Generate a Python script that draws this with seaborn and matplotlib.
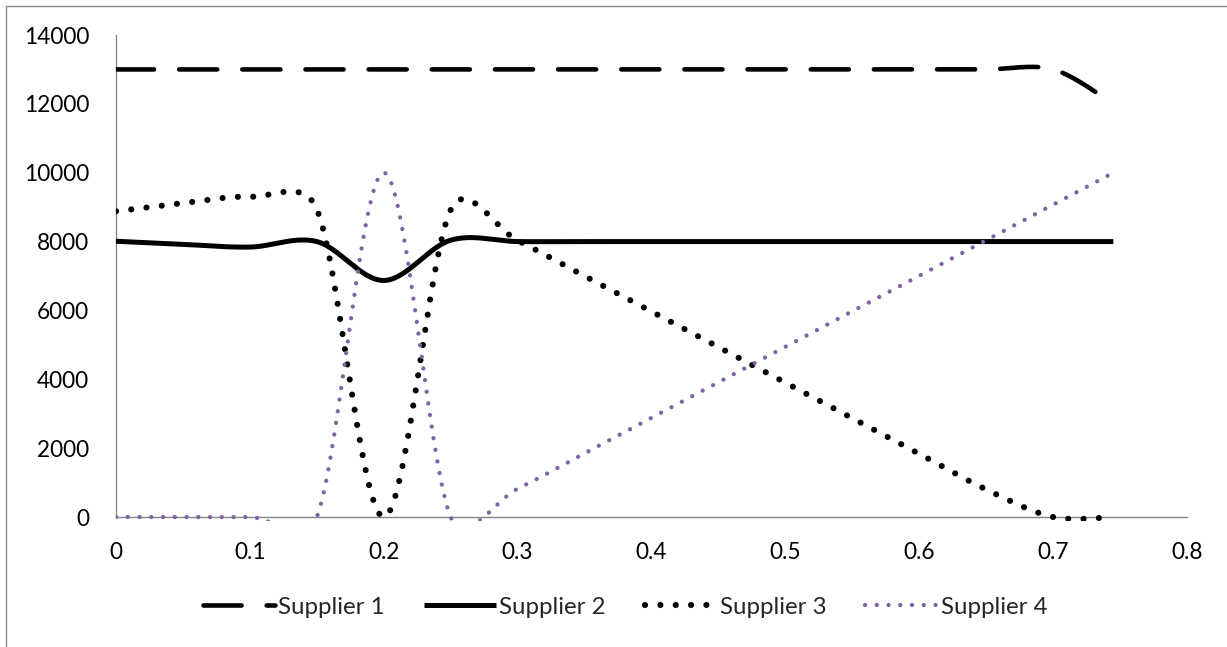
import numpy as np
import matplotlib
matplotlib.use("Agg")
import matplotlib.pyplot as plt
import seaborn as sns
from matplotlib.lines import Line2D
from matplotlib.transforms import Bbox, TransformedBbox

# ---------------- data ----------------
x_values = [0, 0.05, 0.1, 0.15, 0.2, 0.25, 0.3, 0.35, 0.4, 0.45, 0.5,
            0.55, 0.6, 0.65, 0.7, 0.745]
supplier_1 = [13000, 13000, 13000, 13000, 13000, 13000, 13000, 13000, 13000,
              13000, 13000, 13000, 13000, 13000, 13000, 12000]
supplier_2 = [8010, 7920, 7840, 8000, 6870, 8040, 8000, 8000, 8000, 8000,
              8000, 8000, 8000, 8000, 8000, 8000]
supplier_3 = [8880, 9115, 9300, 8940, 0, 8925, 8030, 7000, 5970, 4935,
              3900, 2870, 1835, 800, 0, 0]
supplier_4 = [0, 0, 0, 0, 10000, 0, 820, 1850, 2880, 3910, 4945, 5975,
              7005, 8040, 9070, 10000]
series_names = ["Supplier 1", "Supplier 2", "Supplier 3", "Supplier 4"]
x_ticks = [0, 0.1, 0.2, 0.3, 0.4, 0.5, 0.6, 0.7, 0.8]
x_tick_labels = ["0", "0.1", "0.2", "0.3", "0.4", "0.5", "0.6", "0.7", "0.8"]
y_ticks = [0, 2000, 4000, 6000, 8000, 10000, 12000, 14000]
y_tick_labels = ["0", "2000", "4000", "6000", "8000", "10000", "12000", "14000"]

# ---------------- style ----------------
sns.set_style("white")
plt.rcParams['font.family'] = ['Lato', 'DejaVu Sans']

W, H = 1227, 647
fig = plt.figure(figsize=(W / 100, H / 100), dpi=100)
fig.patch.set_facecolor("white")
ax_left, ax_right, ax_top, ax_bottom = 116, 1187, 35, 517
ax = fig.add_axes([ax_left / W, (H - ax_bottom) / H,
                   (ax_right - ax_left) / W, (ax_bottom - ax_top) / H])
ax.set_xlim(0, 0.8)
ax.set_ylim(0, 14000)

renderer = fig.canvas.get_renderer()


def text_width(s, fs):
    t = fig.text(0, 0, s, fontsize=fs)
    w = t.get_window_extent(renderer=renderer).width
    t.remove()
    return w


tick_fs = 10 * 65.5 / text_width("14000", 10)
leg_fs = 10 * 106.7 / text_width("Supplier 1", 10)


def excel_smooth(xd, yd, n=60):
    """Excel-like smoothed line: Bezier segments built in screen space."""
    P = ax.transData.transform(np.column_stack([xd, yd]).astype(float))
    N = len(P)
    pts = []
    t = np.linspace(0, 1, n)[:, None]
    for i in range(N - 1):
        p0 = P[i - 1] if i > 0 else P[i]
        p1, p2 = P[i], P[i + 1]
        p3 = P[i + 2] if i + 2 < N else P[i + 1]
        L = np.linalg.norm(p2 - p1)
        t1 = (p2 - p0) / 6.0
        t2 = (p3 - p1) / 6.0
        n1, n2 = np.linalg.norm(t1), np.linalg.norm(t2)
        if n1 > 0.5 * L and n1 > 0:
            t1 = t1 * (0.5 * L / n1)
        if n2 > 0.5 * L and n2 > 0:
            t2 = t2 * (0.5 * L / n2)
        c1, c2 = p1 + t1, p2 - t2
        B = ((1 - t) ** 3) * p1 + 3 * ((1 - t) ** 2) * t * c1 + \
            3 * (1 - t) * t ** 2 * c2 + t ** 3 * p2
        pts.append(B if i == 0 else B[1:])
    pts = np.vstack(pts)
    D = ax.transData.inverted().transform(pts)
    return D[:, 0], D[:, 1]


purple = "#8064A2"
styles = [
    dict(color="black", linewidth=3.3, linestyle=(0, (8.31, 5.47)),
         dash_capstyle="round", solid_capstyle="round"),
    dict(color="black", linewidth=3.6, linestyle="-",
         solid_capstyle="butt"),
    dict(color="black", linewidth=4.4, linestyle=(0, (0.01, 2.5)),
         dash_capstyle="round"),
    dict(color=purple, linewidth=3.1, linestyle=(0, (0.01, 2.72)),
         dash_capstyle="round"),
]

all_series = [supplier_1, supplier_2, supplier_3, supplier_4]
clip = TransformedBbox(Bbox([[0, -3.5 / 482], [1, 1.05]]), ax.transAxes)
for name, ys, st in zip(series_names, all_series, styles):
    sx, sy = excel_smooth(x_values, ys)
    sns.lineplot(x=sx, y=sy, ax=ax, sort=False, estimator=None,
                 label=name, zorder=3, **st)
    ax.get_lines()[-1].set_clip_box(clip)

if ax.get_legend() is not None:
    ax.get_legend().remove()

# ---------------- axes ----------------
ax.set_xticks(x_ticks)
ax.set_xticklabels(x_tick_labels)
ax.set_yticks(y_ticks)
ax.set_yticklabels(y_tick_labels)
ax.tick_params(axis='both', length=0, labelsize=tick_fs, labelcolor="black")
ax.tick_params(axis='y', pad=19.4)
ax.tick_params(axis='x', pad=18.0)
ax.grid(False)
for s in ["top", "right"]:
    ax.spines[s].set_visible(False)
for s in ["left", "bottom"]:
    ax.spines[s].set_color("#868686")
    ax.spines[s].set_linewidth(1.0)
    ax.spines[s].set_zorder(2)
ax.set_xlabel("")
ax.set_ylabel("")

# ---------------- legend ----------------
handles = ax.get_lines()[:4]
fig.legend(handles, series_names, loc="center",
           bbox_to_anchor=(625 / W, 1 - 607 / H), ncol=4, frameon=False,
           fontsize=leg_fs, handlelength=51.8 / leg_fs,
           handletextpad=2.5 / leg_fs, columnspacing=28.0 / leg_fs,
           borderpad=0.0, borderaxespad=0.0)

# ---------------- chart border ----------------
bx, by = 5.5 / W, 1 - 5.5 / H
fig.add_artist(Line2D([bx, bx], [0, by], transform=fig.transFigure,
                      color="#8c8c8c", linewidth=1.0))
fig.add_artist(Line2D([bx, 1], [by, by], transform=fig.transFigure,
                      color="#8c8c8c", linewidth=1.0))

fig.savefig("out.png", dpi=100)
